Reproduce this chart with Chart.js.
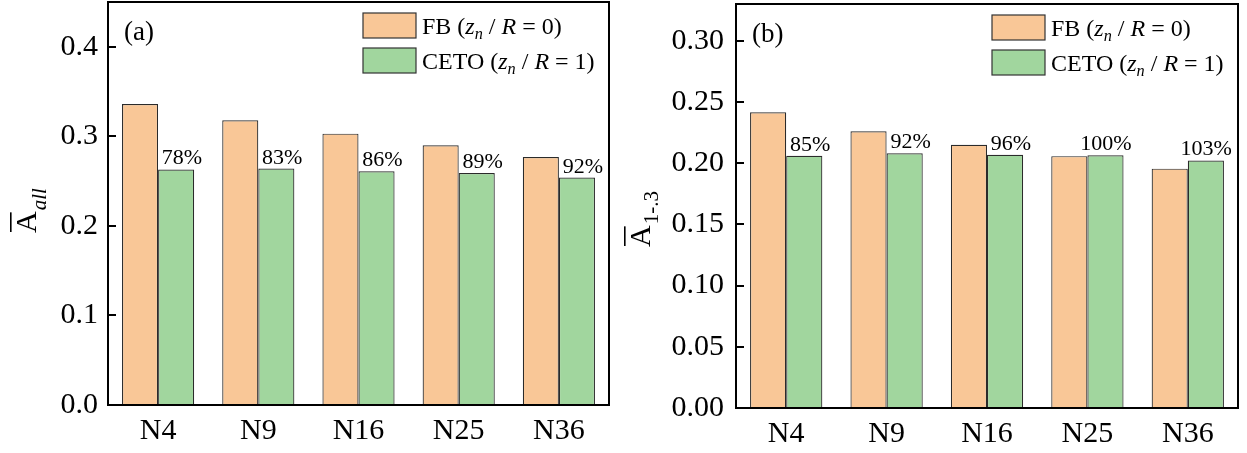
<!DOCTYPE html>
<html>
<head>
<meta charset="utf-8">
<script src="https://cdn.jsdelivr.net/npm/chart.js@4"></script>
<style>
  body { margin: 0; background: #fff; width: 1247px; height: 453px; overflow: hidden; position: relative; }
  canvas { position: absolute; top: 0; }
  #panelA { left: 0; }
  #panelB { left: 620px; }
</style>
</head>
<body>
<canvas id="panelA" width="620" height="453"></canvas>
<canvas id="panelB" width="627" height="453"></canvas>
<script>
const categories = ['N4', 'N9', 'N16', 'N25', 'N36'];

// panel (a): mean over all modes
const fbAll = [0.336, 0.318, 0.303, 0.290, 0.277];
const cetoAll = [0.263, 0.264, 0.261, 0.259, 0.254];
const pctAll = ['78%', '83%', '86%', '89%', '92%'];

// panel (b): mean over modes 1-3
const fb13 = [0.2415, 0.226, 0.215, 0.2057, 0.1955];
const ceto13 = [0.206, 0.208, 0.2068, 0.2065, 0.2022];
const pct13 = ['85%', '92%', '96%', '100%', '103%'];

const SERIF = '"Liberation Serif", "Times New Roman", serif';
const fbColor = '#f9c797';
const cetoColor = '#a1d69e';

// draw a list of [text, style] runs, style: n = normal, i = italic, isub = italic subscript
function drawRuns(ctx, runs, x, y, size) {
    runs.forEach(function (r) {
        let txt = r[0], st = r[1];
        let fs = size, dy = 0, it = '';
        if (st === 'i') it = 'italic ';
        if (st === 'isub') { it = 'italic '; fs = size * 0.68; dy = size * 0.22; }
        ctx.font = it + fs + 'px ' + SERIF;
        ctx.fillText(txt, x, y + dy);
        x += ctx.measureText(txt).width;
    });
}

const legendRuns = [
    [['FB (', 'n'], ['z', 'i'], ['n', 'isub'], [' / ', 'n'], ['R', 'i'], [' = 0)', 'n']],
    [['CETO (', 'n'], ['z', 'i'], ['n', 'isub'], [' / ', 'n'], ['R', 'i'], [' = 1)', 'n']]
];

const decorPlugin = {
    id: 'decor',
    afterDraw: function (chart, args, opts) {
        let ctx = chart.ctx;
        let area = chart.chartArea;
        let yScale = chart.scales.y;
        ctx.save();
        ctx.setLineDash([]);
        ctx.globalAlpha = 1;

        // frame: four separate edges
        ctx.fillStyle = '#000';
        let w = area.right - area.left, h = area.bottom - area.top;
        ctx.fillRect(area.left - 1, area.top - 1, w + 2, 2);
        ctx.fillRect(area.left - 1, area.bottom - 1, w + 2, 2);
        ctx.fillRect(area.left - 1, area.top - 1, 2, h + 2);
        ctx.fillRect(area.right - 1, area.top - 1, 2, h + 2);

        // inward ticks on the left axis
        yScale.ticks.forEach(function (t) {
            let py = Math.round(yScale.getPixelForValue(t.value));
            ctx.fillRect(area.left, py - 1, 8, 2);
        });

        // percentage labels over the CETO bars
        ctx.font = '22px ' + SERIF;
        ctx.textAlign = 'right';
        ctx.textBaseline = 'alphabetic';
        chart.getDatasetMeta(1).data.forEach(function (bar, i) {
            ctx.fillText(opts.pct[i], bar.x + bar.width / 2 + 8, bar.y - 5);
        });

        // panel tag
        ctx.textAlign = 'left';
        ctx.textBaseline = 'middle';
        ctx.font = '27px ' + SERIF;
        ctx.fillText(opts.tag, area.left + 16, area.top + 31);

        // legend
        let bx = area.right - 246;
        ctx.textBaseline = 'alphabetic';
        [fbColor, cetoColor].forEach(function (c, i) {
            let by = area.top + 11 + i * 35;
            ctx.fillStyle = c;
            ctx.fillRect(bx, by, 53, 25);
            ctx.strokeStyle = '#333';
            ctx.lineWidth = 1.2;
            ctx.strokeRect(bx, by, 53, 25);
            ctx.fillStyle = '#000';
            drawRuns(ctx, legendRuns[i], bx + 59, by + 21, 24);
        });

        // y axis title, rotated: overlined A with a subscript
        ctx.translate(opts.titleX, opts.titleY);
        ctx.rotate(-Math.PI / 2);
        ctx.font = '30px ' + SERIF;
        ctx.fillText('A', 0, 0);
        let aw = ctx.measureText('A').width;
        ctx.fillRect(1, -26, aw - 2, 1.6);
        ctx.font = (opts.subItalic ? 'italic ' : '') + '21px ' + SERIF;
        ctx.fillText(opts.sub, aw + 1, opts.subDrop);
        ctx.restore();
    }
};

// drop the extra room Chart.js keeps for half tick labels at the ends
function noEdgePad(s) {
    s.paddingTop = 0;
    s.paddingBottom = 0;
    s.paddingLeft = 0;
    s.paddingRight = 0;
}

function makePanel(id, fb, ceto, yMax, step, digits, padRight, padTop, xHeight, yWidth, labelPad, extra) {
    return new Chart(document.getElementById(id), {
        type: 'bar',
        data: {
            labels: categories,
            datasets: [
                { label: 'FB', data: fb, backgroundColor: fbColor, borderColor: '#2b2b2b', borderWidth: 1.2 },
                { label: 'CETO', data: ceto, backgroundColor: cetoColor, borderColor: '#2b2b2b', borderWidth: 1.2 }
            ]
        },
        options: {
            responsive: false,
            animation: false,
            datasets: { bar: { categoryPercentage: 0.72, barPercentage: 1.0 } },
            layout: { padding: { top: padTop, right: padRight, bottom: 0, left: 0 } },
            scales: {
                x: {
                    grid: { display: false, drawTicks: false },
                    border: { display: false },
                    ticks: { color: '#000', font: { family: SERIF, size: 30 }, padding: 8 },
                    afterFit: function (s) { s.height = xHeight; noEdgePad(s); }
                },
                y: {
                    min: 0,
                    max: yMax,
                    grid: { display: false, drawTicks: false },
                    border: { display: false },
                    ticks: {
                        stepSize: step,
                        includeBounds: false,
                        color: '#000',
                        padding: labelPad,
                        font: { family: SERIF, size: 30 },
                        callback: function (v) { return v.toFixed(digits); }
                    },
                    afterFit: function (s) { s.width = yWidth; noEdgePad(s); }
                }
            },
            plugins: {
                legend: { display: false },
                tooltip: { enabled: false },
                decor: extra
            }
        },
        plugins: [decorPlugin]
    });
}

makePanel('panelA', fbAll, cetoAll, 0.45, 0.1, 1, 11, 2, 48, 108, 10,
    { pct: pctAll, tag: '(a)', sub: 'all', subItalic: true, subDrop: 10, titleX: 36, titleY: 233 });

makePanel('panelB', fb13, ceto13, 0.33, 0.05, 2, 9, 4, 45, 116, 12,
    { pct: pct13, tag: '(b)', sub: '1-.3', subItalic: false, subDrop: 8, titleX: 30, titleY: 247 });
</script>
</body>
</html>
